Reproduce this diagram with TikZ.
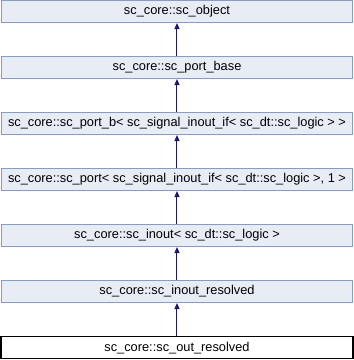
\documentclass[tikz,border=0pt]{standalone}
\usepackage{fontspec}
\setmainfont{Liberation Sans}
\usetikzlibrary{positioning,arrows.meta}

\definecolor{classfill}{HTML}{E8ECF5}
\definecolor{classline}{HTML}{849CCC}
\definecolor{inherit}{HTML}{191970}

\begin{document}
\begin{tikzpicture}[
	x=1pt, y=1pt,
	every node/.style={
		rectangle, draw=classline, fill=classfill,
		line width=1pt,
		minimum width=352pt, minimum height=22pt,
		inner sep=0pt, font=\fontsize{12.8}{14}\selectfont
	},
	node distance=33pt,
	base/.style={},
	current/.style={draw=black, fill=white, line width=1.4pt},
	isa/.style={draw=inherit, line width=1pt, -{Triangle[length=6pt,width=5pt]}}
]
\useasboundingbox (0,0) rectangle (354,-360);
\node[base] (object) at (177,-11.5) {sc\_core::sc\_object};
\node[base, below=of object] (portbase) {sc\_core::sc\_port\_base};
\node[base, below=of portbase] (portb) {sc\_core::sc\_port\_b<\ sc\_signal\_inout\_if<\ sc\_dt::sc\_logic\ >\ >};
\node[base, below=of portb] (port) {sc\_core::sc\_port<\ sc\_signal\_inout\_if<\ sc\_dt::sc\_logic\ >,\ 1\ >};
\node[base, below=of port] (inout) {sc\_core::sc\_inout<\ sc\_dt::sc\_logic\ >};
\node[base, below=of inout] (inoutres) {sc\_core::sc\_inout\_resolved};
\node[current, below=of inoutres] (outres) {sc\_core::sc\_out\_resolved};

% derived -> base
\foreach \derived/\parent in {portbase/object, portb/portbase, port/portb,
		inout/port, inoutres/inout, outres/inoutres}
	\draw[isa] (\derived) -- (\parent);
\end{tikzpicture}
\end{document}
